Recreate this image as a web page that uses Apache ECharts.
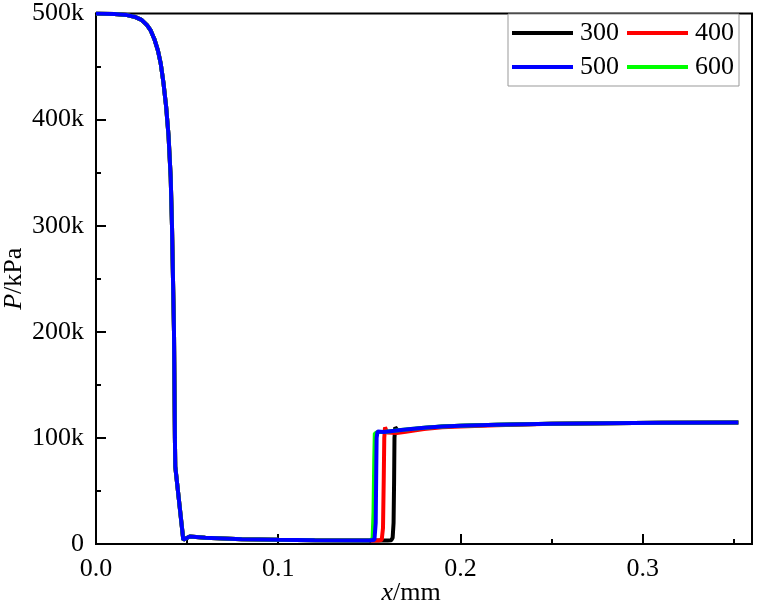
<!DOCTYPE html>
<html>
<head>
<meta charset="utf-8">
<script src="https://cdn.jsdelivr.net/npm/echarts@6/dist/echarts.min.js"></script>
<style>
  html, body { margin: 0; padding: 0; background: #fff; }
  #chart { width: 757px; height: 606px; }
</style>
</head>
<body>
<div id="chart"></div>
<script>
// x in mm, P in thousands (axis shows "k")
const expansion = [
  [0, 500], [0.01, 499.5], [0.017, 498.5], [0.021, 497], [0.025, 494], [0.028, 489],
  [0.030, 484], [0.032, 476], [0.034, 465], [0.0355, 453], [0.037, 435], [0.0385, 412],
  [0.0398, 385], [0.041, 345], [0.0417, 300], [0.0428, 200], [0.0433, 100], [0.0435, 73],
  [0.0479, 4], [0.0515, 7], [0.06, 6], [0.08, 4.5], [0.1, 4], [0.12, 3.6], [0.15, 3.3]
];
const shock300 = [
  [0.16, 3.2], [0.162, 3.6], [0.1628, 6], [0.1633, 20], [0.1636, 60], [0.1638, 100],
  [0.1642, 110], [0.1655, 107], [0.17, 107.5], [0.18, 109.3]
];
const shock400 = [
  [0.155, 3.2], [0.1568, 4], [0.1575, 15], [0.1579, 60], [0.1582, 100], [0.1586, 110],
  [0.1598, 105], [0.165, 104.5], [0.17, 105.8], [0.18, 108.3], [0.19, 110], [0.2, 110.8], [0.22, 111.9]
];
const shock500 = [
  [0.151, 3.3], [0.1528, 4], [0.1535, 20], [0.1538, 70], [0.154, 100], [0.1545, 106],
  [0.158, 105.5], [0.165, 107], [0.17, 108], [0.18, 109.5]
];
const shock600 = [
  [0.15, 3.3], [0.1518, 5], [0.1523, 30], [0.1527, 80], [0.153, 104], [0.1545, 105.5],
  [0.158, 105.5], [0.165, 107], [0.17, 108], [0.18, 109.5]
];
const tail = [
  [0.19, 110.7], [0.2, 111.5], [0.22, 112.5], [0.25, 113.3], [0.28, 113.8], [0.31, 114.2], [0.3525, 114.5]
];

const xMajor = [0, 0.1, 0.2, 0.3];
const xMinor = [0.05, 0.15, 0.25, 0.35];

const names = ['300', '400', '500', '600'];
const colors = ['#000000', '#ff0000', '#0000ff', '#00ff00'];
const shocks = [shock300, shock400, shock500, shock600];

const buildLine = shock => {
  const start = shock[0][0];
  const end = shock[shock.length - 1][0];
  return expansion.filter(p => p[0] < start)
    .concat(shock)
    .concat(tail.filter(p => p[0] > end));
};

const font = 'Liberation Serif';
const chart = echarts.init(document.getElementById('chart'));

chart.setOption({
  backgroundColor: '#fff',
  animation: false,
  textStyle: { fontFamily: font, color: '#000' },
  grid: {
    left: 96, right: 5, top: 13.5, bottom: 62,
    outerBoundsMode: 'none',
    show: true, borderColor: '#000', borderWidth: 2, backgroundColor: '#fff'
  },
  legend: {
    data: names,
    left: 508, top: 14,
    width: 228,
    orient: 'horizontal',
    padding: [6, 5, 6, 4],
    itemGap: 8,
    icon: 'rect',
    itemWidth: 61,
    itemHeight: 4,
    borderColor: '#999',
    borderWidth: 1,
    borderRadius: 0,
    backgroundColor: '#fff',
    textStyle: { fontFamily: font, fontSize: 26, color: '#000', padding: [0, 0, 0, 2] }
  },
  xAxis: [{
    type: 'value',
    min: 0, max: 0.36,
    name: '{i|x}/mm',
    nameLocation: 'middle',
    nameGap: 36,
    nameMoveOverlap: false,
    nameTextStyle: {
      fontFamily: font, fontSize: 26, color: '#000', padding: [0, 26, 0, 0],
      rich: { i: { fontFamily: font, fontSize: 26, fontStyle: 'italic' } }
    },
    axisLine: { show: true, onZero: false, lineStyle: { color: '#000', width: 2 } },
    axisTick: { show: true, inside: true, length: 10, lineStyle: { width: 2 }, customValues: xMajor },
    axisLabel: {
      fontFamily: font, fontSize: 26, color: '#000', margin: 12,
      customValues: xMajor,
      formatter: v => v.toFixed(1)
    },
    splitLine: { show: false }
  }, {
    type: 'value',
    min: 0, max: 0.36,
    position: 'bottom',
    axisLine: { show: false },
    axisTick: { show: true, inside: true, length: 5, lineStyle: { width: 2, color: '#000' }, customValues: xMinor },
    axisLabel: { show: false },
    splitLine: { show: false }
  }],
  yAxis: {
    type: 'value',
    min: 0, max: 500, interval: 100,
    name: '{i|P}/kPa',
    nameLocation: 'middle',
    nameGap: 69,
    nameRotate: 90,
    nameMoveOverlap: false,
    nameTextStyle: {
      fontFamily: font, fontSize: 26, color: '#000',
      rich: { i: { fontFamily: font, fontSize: 26, fontStyle: 'italic' } }
    },
    axisLine: { show: true, onZero: false, lineStyle: { color: '#000', width: 2 } },
    axisTick: { show: true, inside: true, length: 10, lineStyle: { width: 2 } },
    minorTick: { show: true, splitNumber: 2, length: 5, lineStyle: { color: '#000', width: 2 } },
    axisLabel: {
      fontFamily: font, fontSize: 26, color: '#000', margin: 12,
      formatter: v => (v === 0 ? '0' : v + 'k')
    },
    splitLine: { show: false }
  },
  series: names.map((n, i) => ({
    name: n,
    type: 'line',
    xAxisIndex: 0,
    data: buildLine(shocks[i]),
    showSymbol: false,
    symbol: 'none',
    z: n === '500' ? 5 : 2,
    lineStyle: { color: colors[i], width: 4 },
    itemStyle: { color: colors[i] }
  }))
});
</script>
</body>
</html>
